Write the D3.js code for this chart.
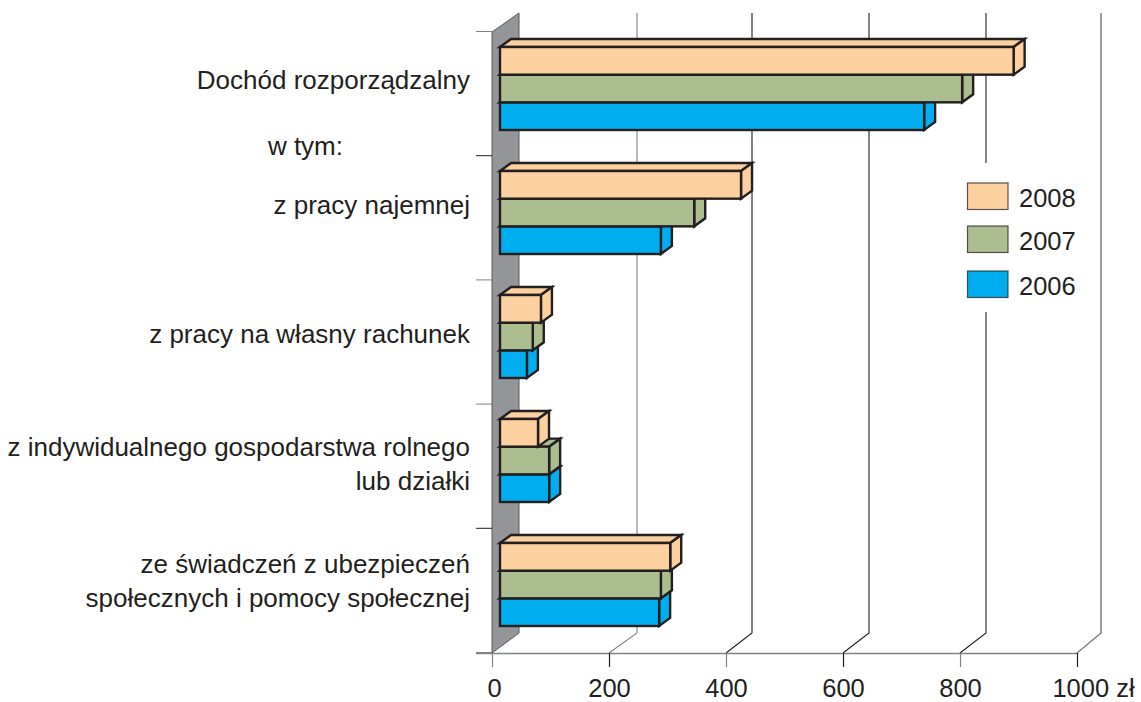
<!DOCTYPE html>
<html><head><meta charset="utf-8">
<script src="https://cdn.jsdelivr.net/npm/d3@7"></script>
<style>html,body{margin:0;padding:0;background:#fff}svg{display:block}text{font-family:"Liberation Sans",Arial,sans-serif;fill:#231f20}</style>
</head><body><div id="c"></div>
<script>
const categories = ["Dochód rozporządzalny","z pracy najemnej","z pracy na własny rachunek","z indywidualnego gospodarstwa rolnego lub działki","ze świadczeń z ubezpieczeń społecznych i pomocy społecznej"];
const categoryLines = [["Dochód rozporządzalny"],["z pracy najemnej"],["z pracy na własny rachunek"],["z indywidualnego gospodarstwa rolnego","lub działki"],["ze świadczeń z ubezpieczeń","społecznych i pomocy społecznej"]];
const years = ["2008","2007","2006"];
const values2008 = [878,412,70,65,291];
const values2007 = [790,332,56,84,275];
const values2006 = [725,275,46,84,272];
const xTicks = [0,200,400,600,800,1000];
const colors = ["#fdd09f","#acbe8f","#00aeef"];
const seriesValues = [values2008,values2007,values2006];

const W=1141,H=702;
const svg=d3.select("#c").append("svg").attr("width",W).attr("height",H);
const x=d3.scaleLinear().domain([0,1000]).range([492,1077]);
const xBack=d3.scaleLinear().domain(xTicks).range([519,637,752,869,986,1101]);
const y=d3.scaleBand().domain(categories).range([32,652]);
const floorY=653, backFloorY=633, backTopY=13;
const barDepth={dx:11,dy:-8}, barInset=8;
const ink="#231f20", gray="#808285";

// side wall
svg.append("polygon").attr("fill","#939598").attr("stroke","#58595b").attr("stroke-width",1)
  .attr("points",[[x(0),32],[xBack(0),backTopY],[xBack(0),backFloorY],[x(0),floorY]].join(" "));

// grid: back wall verticals + floor diagonals
xTicks.slice(1).forEach(t=>{
  const c=(t==200||t==1000)?gray:ink, w=(t==1000)?1.6:1.1;
  svg.append("path").attr("fill","none").attr("stroke",c).attr("stroke-width",w)
    .attr("d",d3.line()([[x(t),floorY],[xBack(t),backFloorY],[xBack(t),backTopY]]));
});

// axes
const ax=svg.append("g").attr("transform","translate(0,653)")
  .call(d3.axisBottom(x).tickValues(xTicks).tickSize(14).tickFormat(d=>d==1000?"1000 zł":d));
ax.select(".domain").attr("d","M476,0.5H1077").attr("stroke",gray).attr("stroke-width",1.3);
ax.selectAll(".tick line").attr("stroke",d=>(d==200||d==600||d==1000)?ink:gray).attr("stroke-width",1.2);
ax.selectAll(".tick text").attr("y",44).attr("dy",0).style("font-size","25.5px").attr("text-anchor","middle")
  .attr("dx",d=>d==1000?16:d==0?2:0).style("font-family",'"Liberation Sans",Arial,sans-serif').attr("fill",ink);

const ay=svg.append("g").attr("transform","translate(492,0)")
  .call(d3.axisLeft(d3.scalePoint().domain(d3.range(6)).range([31,652])).tickSize(16).tickFormat(""));
ay.select(".domain").remove();
ay.selectAll(".tick line").attr("stroke",d=>d==1||d==4?ink:gray).attr("stroke-width",1);

// legend backdrop interrupts the grid
svg.append("rect").attr("x",955).attr("y",163).attr("width",132).attr("height",149).attr("fill","#fff");
const legendTops=[183,226,271], legendBase=[207,250,295];
years.forEach((yr,i)=>{
  svg.append("rect").attr("x",967.5).attr("y",legendTops[i]).attr("width",40.5).attr("height",26.5)
    .attr("fill",colors[i]).attr("stroke",ink).attr("stroke-opacity",.75).attr("stroke-width",1.2);
  svg.append("text").attr("x",1019).attr("y",legendBase[i]).style("font-size","25.5px").text(yr);
});

// bars (drawn back-to-front: 2006 first so upper bars overlap)
const inner=d3.scaleBand().domain(years).range([15,98]);
const x0=x(0)+barInset, unit=x(1)-x(0);
[2,1,0].forEach(si=>{
  categories.forEach((cat,ci)=>{
    const v=seriesValues[si][ci];
    const l=x0, r=x0+v*unit, t=y(cat)+inner(years[si]), b=t+inner.bandwidth();
    const g=svg.append("g").attr("stroke",ink).attr("stroke-width",2.4).attr("stroke-linejoin","miter").attr("fill",colors[si]);
    const dx=barDepth.dx,dy=barDepth.dy;
    g.append("polygon").attr("points",[[l,t],[l+dx,t+dy],[r+dx,t+dy],[r,t]].join(" "));
    g.append("polygon").attr("points",[[r,t],[r+dx,t+dy],[r+dx,b+dy],[r,b]].join(" "));
    g.append("rect").attr("x",l).attr("y",t).attr("width",r-l).attr("height",b-t);
  });
});

// category labels
const baselines=[[89],[214],[343],[456,490],[573,607]];
categoryLines.forEach((ls,i)=>ls.forEach((s,j)=>{
  svg.append("text").attr("x",470).attr("y",baselines[i][j]).attr("text-anchor","end").style("font-size","26px").text(s);
}));
svg.append("text").attr("x",343).attr("y",155).attr("text-anchor","end").style("font-size","26px").text("w tym:");
</script></body></html>
